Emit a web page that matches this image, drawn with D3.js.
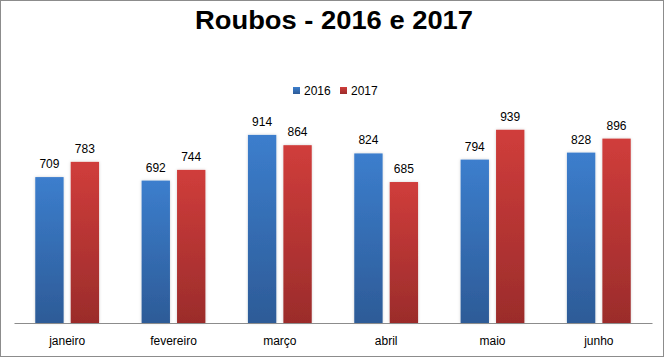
<!DOCTYPE html>
<html><head><meta charset="utf-8">
<script src="https://cdn.jsdelivr.net/npm/d3@7"></script>
<style>html,body{margin:0;padding:0;background:#fff;}svg{display:block;}</style>
</head><body>
<svg id="chart" width="667" height="358"></svg>
<script>
const months = ["janeiro","fevereiro","março","abril","maio","junho"];
const series = ["2016","2017"];
const values2016 = [709, 692, 914, 824, 794, 828];
const values2017 = [783, 744, 864, 685, 939, 896];
const title = "Roubos - 2016 e 2017";

const data = months.map((m,i)=>({month:m, v:[values2016[i], values2017[i]]}));
const svg = d3.select("#chart");
const font = "'Liberation Sans', Arial, sans-serif";

svg.append("rect").attr("x",0.5).attr("y",0.5).attr("width",663).attr("height",356)
  .attr("fill","#fff").attr("stroke","#8c8c8c").attr("stroke-width",1);

const defs = svg.append("defs");
const grads = [["g2016","#3c7ecd","#2d5b97"],["g2017","#d03d3b","#9b2c2b"]];
grads.forEach(([id,top,bot])=>{
  const g = defs.append("linearGradient").attr("id",id).attr("x1",0).attr("y1",0).attr("x2",0).attr("y2",1);
  g.append("stop").attr("offset","0%").attr("stop-color",top);
  g.append("stop").attr("offset","100%").attr("stop-color",bot);
});
const f = defs.append("filter").attr("id","sh").attr("x","-30%").attr("y","-10%").attr("width","160%").attr("height","120%");
f.append("feDropShadow").attr("dx",0).attr("dy",0).attr("stdDeviation",1.5).attr("flood-color","#000").attr("flood-opacity",0.18);

const x0 = d3.scaleBand().domain(months).range([14,652]).paddingInner(0.4).paddingOuter(0.2);
const x1 = d3.scaleBand().domain(series).range([0,x0.bandwidth()]).paddingInner(0.2).paddingOuter(0);
const y = d3.scaleLinear().domain([0,1000]).range([323,117.2]);
const colors = ["url(#g2016)","url(#g2017)"];

const groups = svg.selectAll("g.m").data(data).join("g").attr("class","m")
  .attr("transform",d=>`translate(${x0(d.month)},0)`);
groups.selectAll("rect").data(d=>d.v.map((v,i)=>({v,s:series[i],i}))).join("rect")
  .attr("x",d=>x1(d.s)).attr("width",x1.bandwidth())
  .attr("y",d=>y(d.v)).attr("height",d=>y(0)-y(d.v))
  .attr("fill",d=>colors[d.i]).attr("filter","url(#sh)");
groups.selectAll("text.val").data(d=>d.v.map((v,i)=>({v,s:series[i],i}))).join("text")
  .attr("class","val")
  .attr("x",d=>x1(d.s)+x1.bandwidth()/2).attr("y",d=>y(d.v)-9)
  .attr("text-anchor","middle").attr("font-family",font).attr("font-size",12).attr("fill","#000")
  .text(d=>d.v);

const axis = d3.axisBottom(x0).tickSize(0).tickPadding(13);
const ag = svg.append("g").attr("transform",`translate(0,${y(0)})`).call(axis);
ag.select(".domain").attr("stroke","#8c8c8c").attr("stroke-width",1.2);
ag.selectAll("text").attr("font-family",font).attr("font-size",12).attr("fill","#000");

svg.append("text").attr("x",334).attr("y",28.5).attr("text-anchor","middle")
  .attr("font-family",font).attr("font-weight","bold").attr("font-size",26).attr("fill","#000")
  .attr("textLength",278).attr("lengthAdjust","spacingAndGlyphs")
  .text(title);

const lg = svg.append("g");
const lx = [293, 340];
series.forEach((s,i)=>{
  lg.append("rect").attr("x",lx[i]).attr("y",87).attr("width",7).attr("height",7).attr("fill",colors[i]);
  lg.append("text").attr("x",lx[i]+11).attr("y",94.5).attr("font-family",font).attr("font-size",12).attr("fill","#000").text(s);
});
</script>
</body></html>
